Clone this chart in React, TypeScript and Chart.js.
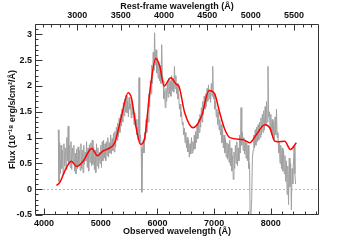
import React, { useEffect, useRef } from "react";
import { Chart, registerables } from "chart.js";
Chart.register(...registerables);

// 1 + z : observed / rest-frame
const ONE_PLUS_Z = 1.529;
const X_MIN = 3840;
const X_MAX = 8850;
const Y_MIN = -0.5;
const Y_MAX = 3.2;

// Tick labels
const bottomTickValues = [4000, 5000, 6000, 7000, 8000];
const topTickValues = [3000, 3500, 4000, 4500, 5000, 5500];
const yTickValues = [-0.5, 0, 0.5, 1, 1.5, 2, 2.5, 3];

// Observed spectrum (grey)
const obsWave = [
  4250, 4262.5, 4275, 4287.5, 4300, 4312.5, 4325, 4337.5, 4350, 4362.5, 4375, 4387.5, 4400, 4412.5, 4425, 4437.5,
  4450, 4462.5, 4475, 4487.5, 4500, 4512.5, 4525, 4537.5, 4550, 4562.5, 4575, 4587.5, 4600, 4612.5, 4625, 4637.5,
  4650, 4662.5, 4675, 4687.5, 4700, 4712.5, 4725, 4737.5, 4750, 4762.5, 4775, 4787.5, 4800, 4812.5, 4825, 4837.5,
  4850, 4862.5, 4875, 4887.5, 4900, 4912.5, 4925, 4937.5, 4950, 4962.5, 4975, 4987.5, 5000, 5012.5, 5025, 5037.5,
  5050, 5062.5, 5075, 5087.5, 5100, 5112.5, 5125, 5137.5, 5150, 5162.5, 5175, 5187.5, 5200, 5212.5, 5225, 5237.5,
  5250, 5262.5, 5275, 5287.5, 5300, 5312.5, 5325, 5337.5, 5350, 5362.5, 5375, 5387.5, 5400, 5412.5, 5425, 5437.5,
  5450, 5462.5, 5475, 5487.5, 5500, 5512.5, 5525, 5537.5, 5550, 5562.5, 5575, 5587.5, 5600, 5612.5, 5625, 5637.5,
  5650, 5662.5, 5675, 5687.5, 5700, 5712.5, 5725, 5737.5, 5750, 5762.5, 5775, 5787.5, 5800, 5812.5, 5825, 5837.5,
  5850, 5862.5, 5875, 5887.5, 5900, 5912.5, 5925, 5937.5, 5950, 5962.5, 5975, 5987.5, 6000, 6012.5, 6025, 6037.5,
  6050, 6062.5, 6075, 6087.5, 6100, 6112.5, 6125, 6137.5, 6150, 6162.5, 6175, 6187.5, 6200, 6212.5, 6225, 6237.5,
  6250, 6262.5, 6275, 6287.5, 6300, 6312.5, 6325, 6337.5, 6350, 6362.5, 6375, 6387.5, 6400, 6412.5, 6425, 6437.5,
  6450, 6462.5, 6475, 6487.5, 6500, 6512.5, 6525, 6537.5, 6550, 6562.5, 6575, 6587.5, 6600, 6612.5, 6625, 6637.5,
  6650, 6662.5, 6675, 6687.5, 6700, 6712.5, 6725, 6737.5, 6750, 6762.5, 6775, 6787.5, 6800, 6812.5, 6825, 6837.5,
  6850, 6862.5, 6875, 6887.5, 6900, 6912.5, 6925, 6937.5, 6950, 6962.5, 6975, 6987.5, 7000, 7012.5, 7025, 7037.5,
  7050, 7062.5, 7075, 7087.5, 7100, 7112.5, 7125, 7137.5, 7150, 7162.5, 7175, 7187.5, 7200, 7212.5, 7225, 7237.5,
  7250, 7262.5, 7275, 7287.5, 7300, 7312.5, 7325, 7337.5, 7350, 7362.5, 7375, 7387.5, 7400, 7412.5, 7425, 7437.5,
  7450, 7462.5, 7475, 7487.5, 7500, 7512.5, 7525, 7537.5, 7550, 7562.5, 7575, 7587.5, 7600, 7612.5, 7625, 7637.5,
  7650, 7662.5, 7675, 7687.5, 7700, 7712.5, 7725, 7737.5, 7750, 7762.5, 7775, 7787.5, 7800, 7812.5, 7825, 7837.5,
  7850, 7862.5, 7875, 7887.5, 7900, 7912.5, 7925, 7937.5, 7950, 7962.5, 7975, 7987.5, 8000, 8012.5, 8025, 8037.5,
  8050, 8062.5, 8075, 8087.5, 8100, 8112.5, 8125, 8137.5, 8150, 8162.5, 8175, 8187.5, 8200, 8212.5, 8225, 8237.5,
  8250, 8262.5, 8275, 8287.5, 8300, 8312.5, 8325, 8337.5, 8350, 8362.5, 8375, 8387.5, 8400, 8412.5, 8425, 8437.5,
];
const obsFlux = [
  1.15, 0.15, 0.90, 0.30, 0.85, 0.40, 0.75, 0.28, 0.88, 0.45, 0.80, 0.38, 1.00, 0.55, 1.22, 0.50,
  0.85, 0.42, 0.92, 0.38, 0.80, 0.50, 0.85, 0.35, 0.70, 0.30, 0.78, 0.40, 0.82, 0.45, 0.75, 0.36,
  0.88, 0.40, 0.76, 0.32, 0.85, 0.48, 0.72, 0.55, 0.92, 0.42, 0.80, 0.35, 0.86, 0.52, 0.90, 0.45,
  0.95, 0.48, 0.82, 0.38, 0.75, 0.32, 0.88, 0.45, 0.80, 0.40, 0.72, 0.50, 0.85, 0.42, 0.92, 0.55,
  0.95, 0.60, 0.88, 0.55, 0.92, 0.65, 1.00, 0.62, 0.90, 0.70, 1.05, 0.68, 0.98, 0.75, 1.08, 0.72,
  1.12, 0.82, 1.20, 0.95, 1.28, 1.02, 1.38, 1.10, 1.45, 1.22, 1.55, 1.30, 1.68, 1.42, 1.75, 1.50,
  1.82, 1.48, 1.70, 1.40, 1.78, 1.55, 1.65, 1.38, 1.72, 1.45, 1.58, 1.25, 1.48, 1.20, 1.35, 1.05,
  1.20, 0.95, 2.16, 0.90, 1.05, 0.80, -0.06, 0.75, 0.95, 0.70, 1.10, 0.95, 1.35, 1.10, 1.50, 1.30,
  1.85, 1.60, 2.10, 1.85, 2.40, 2.05, 2.65, 2.30, 3.03, 2.40, 2.70, 2.25, 2.55, 2.15, 2.45, 2.10,
  2.40, 2.05, 2.80, 2.20, 2.10, 1.75, 1.90, 1.58, 1.95, 1.70, 2.05, 1.78, 2.15, 1.85, 2.10, 1.80,
  2.20, 1.90, 2.15, 1.88, 2.38, 1.95, 2.20, 1.85, 2.05, 1.75, 1.85, 1.55, 1.65, 1.40, 1.50, 1.25,
  1.30, 1.05, 1.18, 0.90, 1.10, 0.80, 1.00, 0.72, 0.95, 0.62, 0.88, 0.68, 1.00, 0.70, 0.92, 0.75,
  1.05, 0.78, 1.12, 0.90, 1.25, 0.98, 1.35, 1.10, 1.45, 1.20, 1.58, 1.30, 1.70, 1.45, 1.80, 1.55,
  1.85, 1.60, 1.95, 1.70, 2.02, 1.75, 1.90, 1.68, 2.05, 1.80, 2.38, 1.75, 1.85, 1.55, 1.70, 1.40,
  1.55, 1.25, 1.50, 1.15, 1.35, 1.05, 1.25, 0.90, 1.15, 0.80, 1.05, 0.70, 0.98, 0.62, 0.90, 0.58,
  0.88, 0.52, 0.95, 0.45, 0.80, 0.35, 0.65, 0.19, 0.72, 0.40, 0.85, 0.50, 0.92, 0.45, 0.80, 0.55,
  1.05, 0.70, 1.58, 0.85, 1.10, 0.75, 1.00, 0.68, 0.95, 0.60, 0.90, 0.55, 0.85, 0.40, 0.50, -0.80,
  -0.80, -0.20, 0.60, 0.75, 1.05, 0.80, 1.15, 0.85, 1.20, 0.92, 1.25, 0.95, 1.30, 1.00, 1.38, 1.05,
  1.45, 1.10, 1.52, 1.15, 1.60, 1.25, 1.70, 1.30, 2.38, 1.40, 1.50, 1.15, 1.45, 1.05, 1.35, 1.00,
  1.30, 0.95, 1.40, 1.05, 1.55, 1.00, 1.10, 0.70, 0.90, 0.50, 0.85, 0.40, 0.80, 0.35, 0.75, 0.30,
  0.65, 0.15, 0.55, -0.10, 0.45, -0.30, 0.60, 0.05, 0.50, -0.40, 0.40, 0.10, 0.55, 0.83, 0.30, 0.10,
];

// Model fit (red)
const fitWave = [
  4219, 4277, 4365, 4480, 4575, 4688, 4840, 4945, 5041, 5160, 5247,
  5365, 5482, 5541, 5630, 5700, 5776, 5864, 5970, 6041, 6116, 6235,
  6335, 6376, 6481, 6628, 6776, 6910, 7011, 7099, 7187, 7275, 7510,
  7628, 7746, 7893, 7981, 8069, 8128, 8245, 8346, 8451,
];
const fitFlux = [
  0.07, 0.13, 0.35, 0.54, 0.44, 0.54, 0.79, 0.65, 0.74, 0.80, 0.90,
  1.41, 1.87, 1.77, 1.16, 0.87, 1.00, 1.87, 2.53, 2.38, 2.00, 2.16,
  2.03, 2.00, 1.48, 1.19, 1.41, 1.91, 1.84, 1.48, 1.16, 1.00, 0.96,
  0.90, 1.06, 1.25, 1.19, 0.93, 0.92, 0.93, 0.77, 0.90,
];

const FONT = "'Liberation Sans', Arial, Helvetica, sans-serif";
const AXIS_COLOR = "#333333";

const idlTicks = {
  id: "idlTicks",
  beforeDatasetsDraw(chart: any) {
    const { ctx, chartArea, scales } = chart;
    const y0 = Math.round(scales.y.getPixelForValue(0)) + 0.5;
    ctx.save();
    ctx.strokeStyle = "#bbbbbb";
    ctx.lineWidth = 1;
    ctx.setLineDash([2, 2]);
    ctx.beginPath();
    ctx.moveTo(chartArea.left, y0);
    ctx.lineTo(chartArea.right, y0);
    ctx.stroke();
    ctx.restore();
  },
  afterDraw(chart: any) {
    const { ctx, chartArea, scales } = chart;
    const L = Math.round(chartArea.left) + 0.5;
    const R = Math.round(chartArea.right) - 0.5;
    const T = Math.round(chartArea.top) + 0.5;
    const B = Math.round(chartArea.bottom) - 0.5;
    ctx.save();
    ctx.strokeStyle = AXIS_COLOR;
    ctx.lineWidth = 1;
    ctx.beginPath();
    ctx.moveTo(L, T);
    ctx.lineTo(R, T);
    ctx.lineTo(R, B);
    ctx.lineTo(L, B);
    ctx.closePath();
    // bottom ticks (observed): major 1000, minor 200
    for (let v = 3800; v <= 8800; v += 200) {
      if (v < X_MIN || v > X_MAX) continue;
      const x = Math.round(scales.x.getPixelForValue(v)) + 0.5;
      const len = v % 1000 === 0 ? 6 : 3;
      ctx.moveTo(x, B);
      ctx.lineTo(x, B - len);
    }
    // top ticks (rest frame): major 500, minor 100
    for (let v = 2500; v <= 5800; v += 100) {
      if (v < scales.xTop.min || v > scales.xTop.max) continue;
      const x = Math.round(scales.xTop.getPixelForValue(v)) + 0.5;
      const len = v % 500 === 0 ? 6 : 3;
      ctx.moveTo(x, T);
      ctx.lineTo(x, T + len);
    }
    // left ticks: major 0.5, minor 0.1
    for (let i = -5; i <= 32; i++) {
      const v = i / 10;
      const y = Math.round(scales.y.getPixelForValue(v)) + 0.5;
      const len = i % 5 === 0 ? 7 : 3;
      ctx.moveTo(L, y);
      ctx.lineTo(L + len, y);
    }
    ctx.stroke();
    ctx.restore();
  },
};

export default function App() {
  const ref = useRef<HTMLCanvasElement>(null);
  useEffect(() => {
    const canvas = ref.current;
    if (!canvas) return;
    const tickFont = { family: FONT, size: 9, weight: "bold" as const };
    const titleFont = { family: FONT, size: 9, weight: "bold" as const };
    const fixedTicks = (vals: number[]) => (s: any) => {
      s.ticks = vals.map((v) => ({ value: v }));
    };
    const chart = new Chart(canvas, {
      type: "line",
      data: {
        datasets: [
          {
            label: "fit",
            data: fitWave.map((w, i) => ({ x: w, y: fitFlux[i] })),
            borderColor: "#ff0000",
            borderWidth: 1.5,
            pointRadius: 0,
            tension: 0.4,
            cubicInterpolationMode: "monotone",
            fill: false,
          },
          {
            label: "spectrum",
            data: obsWave.map((w, i) => ({ x: w, y: obsFlux[i] })),
            borderColor: "#a0a0a0",
            borderWidth: 1,
            pointRadius: 0,
            tension: 0,
            fill: false,
            clip: 0,
          },
        ],
      },
      options: {
        responsive: false,
        animation: false,
        events: [],
        layout: { padding: { left: 0, right: 36, top: 0, bottom: 0 } },
        plugins: { legend: { display: false }, tooltip: { enabled: false } },
        scales: {
          x: {
            type: "linear",
            position: "bottom",
            min: X_MIN,
            max: X_MAX,
            afterBuildTicks: fixedTicks(bottomTickValues),
            grid: { display: false, drawTicks: false },
            border: { display: false },
            ticks: {
              maxRotation: 0,
              autoSkip: false,
              padding: 3,
              color: "#111",
              font: tickFont,
              callback: (v: any) => String(v),
            },
            title: {
              display: true,
              text: "Observed wavelength (Å)",
              color: "#111",
              font: titleFont,
              padding: { top: 0, bottom: 3 },
            },
            afterFit: (s: any) => {
              s.height = 25;
            },
          },
          xTop: {
            type: "linear",
            position: "top",
            min: X_MIN / ONE_PLUS_Z,
            max: X_MAX / ONE_PLUS_Z,
            afterBuildTicks: fixedTicks(topTickValues),
            grid: { display: false, drawTicks: false },
            border: { display: false },
            ticks: {
              maxRotation: 0,
              autoSkip: false,
              padding: 3,
              color: "#111",
              font: tickFont,
              callback: (v: any) => String(v),
            },
            title: {
              display: true,
              text: "Rest-frame wavelength (Å)",
              color: "#111",
              font: titleFont,
              padding: { top: 1, bottom: 0 },
            },
            afterFit: (s: any) => {
              s.height = 24;
            },
          },
          y: {
            type: "linear",
            position: "left",
            min: Y_MIN,
            max: Y_MAX,
            afterBuildTicks: fixedTicks(yTickValues),
            grid: { display: false, drawTicks: false },
            border: { display: false },
            ticks: {
              autoSkip: false,
              padding: 3,
              color: "#111",
              font: tickFont,
              callback: (v: any) => String(v),
            },
            title: {
              display: true,
              text: "Flux (10⁻¹⁸ erg/s/cm²/Å)",
              color: "#111",
              font: titleFont,
              padding: { top: 7, bottom: 0 },
            },
            afterFit: (s: any) => {
              s.width = 35;
            },
          },
        },
      },
      plugins: [idlTicks],
    });
    return () => chart.destroy();
  }, []);
  return (
    <div style={{ position: "absolute", left: 0, top: 0, width: 355, height: 240, background: "#fff" }}>
      <canvas ref={ref} width={355} height={240} style={{ display: "block" }} />
    </div>
  );
}
